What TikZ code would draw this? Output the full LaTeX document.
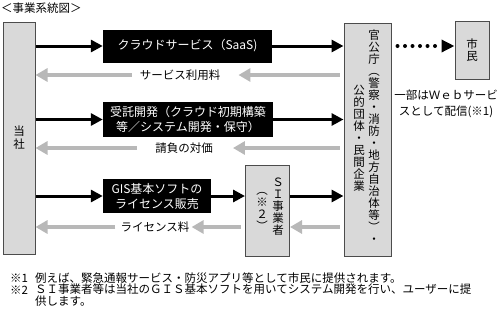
\documentclass[tikz,border=0pt]{standalone}
\usepackage{fontspec}
\setmainfont{Noto Sans CJK JP}
\usetikzlibrary{arrows.meta}

\begin{document}
\begin{tikzpicture}[
    x=1pt, y=-1pt,
    every node/.style = {inner sep=0pt, font=\fontsize{11.5}{13}\selectfont},
    panel/.style  = {draw=black!70, line width=1pt, fill=black!15},
    dark/.style   = {fill=black, text=white, align=center, font=\fontsize{12}{15}\selectfont},
    vtext/.style  = {align=center, anchor=north, font=\fontsize{11.5}{12}\selectfont},
    note/.style   = {align=center, font=\fontsize{11.5}{16}\selectfont},
    flow/.style   = {-{Triangle[length=12pt, width=12pt]}, line width=3pt},
    back/.style   = {-{Triangle[length=12pt, width=13pt]}, line width=4.5pt, draw=black!28},
    dots/.style   = {-{Triangle[length=13pt, width=12pt]}, line width=4pt, line cap=round, dash pattern=on 0pt off 7.5pt}
]
\useasboundingbox (0,0) rectangle (504,314);

% title
\node[anchor=west] (title) at (1,8) {＜事業系統図＞};

% company, customers, citizens
\node[panel, minimum width=32pt, minimum height=232pt, align=center,
      font=\fontsize{11.5}{13}\selectfont] (tousha) at (19,138) {当\\社};
\node[panel, minimum width=47pt, minimum height=233pt] (kan) at (367.5,139.5) {};
\node[panel, minimum width=34pt, minimum height=58pt, align=center,
      font=\fontsize{11.5}{12}\selectfont] (shimin) at (472,50) {市\\民};
\node[panel, minimum width=44pt, minimum height=91pt] (si) at (267.5,210.5) {};

% vertical texts
\node[vtext] (kanR) at (374,29.5) {官\\公\\庁\\︵\\警\\察\\・\\消\\防\\・\\地\\方\\自\\治\\体\\等\\︶\\・};
\node[vtext] (kanL) at (359,84.5) {公\\的\\団\\体\\・\\民\\間\\企\\業};
\node[vtext] (siR) at (278,178) {Ｓ\\Ｉ\\事\\業\\者};
\node[vtext] (siL) at (262,192) {︵\\※\\２\\︶};

% business boxes
\node[dark, minimum width=169pt, minimum height=33pt] (saas) at (187.5,46) {クラウドサービス（SaaS)};
\node[dark, minimum width=170pt, minimum height=35pt] (jutaku) at (188,119.5) {受託開発（クラウド初期構築\\等／システム開発・保守）};
\node[dark, minimum width=108pt, minimum height=34pt] (gis) at (157,196) {GIS基本ソフトの\\ライセンス販売};

% payment labels
\node (fee1) at (180,75) {サービス利用料};
\node (fee2) at (184,148) {請負の対価};
\node (fee3) at (155,227) {ライセンス料};

\node[note] (web) at (446,104) {一部はＷｅｂサービ\\スとして配信(※1)};

% services
\draw[flow] (tousha.east |- saas.west) -- (saas.west);
\draw[flow] (saas.east) -- (kan.west |- saas.east);
\draw[flow] (tousha.east |- jutaku.west) -- (jutaku.west);
\draw[flow] (jutaku.east) -- (kan.west |- jutaku.east);
\draw[flow] (tousha.east |- gis.west) -- (gis.west);
\draw[flow] (gis.east) -- (si.west |- gis.east);
\draw[flow] (si.east |- gis.east) -- (kan.west |- gis.east);
\draw[dots] (kan.east |- saas.east) ++(6pt,0) -- (shimin.west |- saas.east);

% payments
\draw[back, shorten <=4pt] (kan.west |- fee1) -- ([xshift=18pt]fee1.east);
\draw[back] ([xshift=-8pt]fee1.west) -- (tousha.east |- fee1);
\draw[back, shorten <=4pt] (kan.west |- fee2) -- ([xshift=20pt]fee2.east);
\draw[back] ([xshift=-18pt]fee2.west) -- (tousha.east |- fee2);
\draw[back, shorten <=4pt] (kan.west |- fee3) -- (si.east |- fee3);
\draw[back, shorten <=4pt] (si.west |- fee3) -- ([xshift=2pt]fee3.east);
\draw[back] ([xshift=-5pt]fee3.west) -- (tousha.east |- fee3);

% footnotes
\node[anchor=west] (fn1m) at (10,278) {※1};
\node[anchor=west] (fn1) at (35,278) {例えば、緊急通報サービス・防災アプリ等として市民に提供されます。};
\node[anchor=west] (fn2m) at (10,290) {※2};
\node[anchor=north west, align=left, font=\fontsize{11.5}{12}\selectfont] (fn2) at (35,284)
    {ＳＩ事業者等は当社のＧＩＳ基本ソフトを用いてシステム開発を行い、ユーザーに提\\供します。};

\end{tikzpicture}
\end{document}
